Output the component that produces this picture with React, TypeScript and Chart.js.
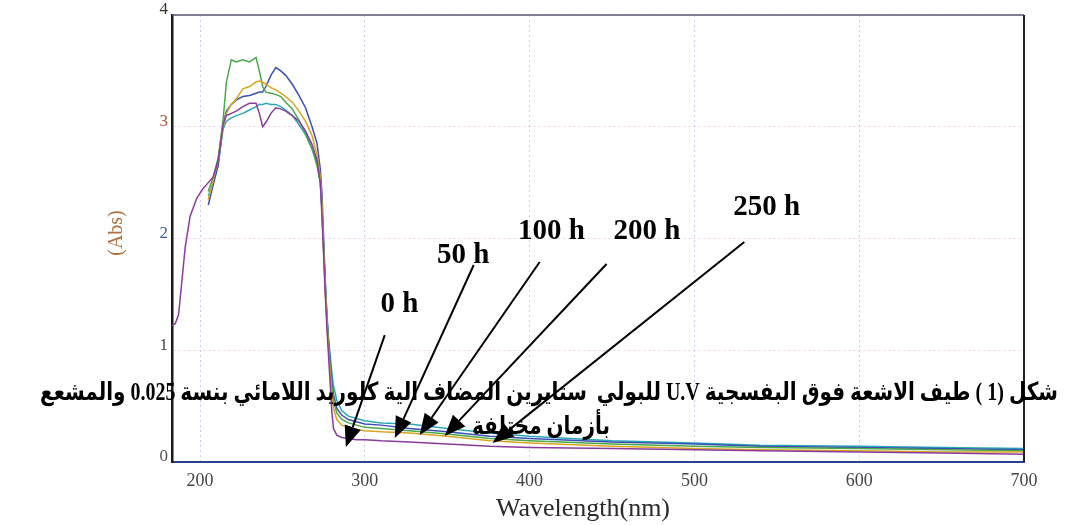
import React, { useEffect, useRef } from "react";
import { Chart, registerables } from "chart.js";

Chart.register(...registerables);

// ---------- data ----------
const wavelengths = [183, 185, 187, 189, 191, 194, 198, 202, 205, 208, 211, 214, 216, 219, 222, 226, 230, 234, 236, 238, 240, 243, 246, 249, 252, 256, 260, 264, 268, 271, 273, 274, 275, 276, 277, 278, 279, 280, 281, 283, 286, 290, 295, 300, 310, 327, 350, 376, 400, 450, 500, 540, 600, 650, 700];

const abs0h = [1.22, 1.24, 1.32, 1.62, 1.92, 2.2, 2.36, 2.45, 2.5, 2.55, 2.7, 3.02, 3.1, 3.12, 3.14, 3.18, 3.21, 3.21, 3.12, 3.0, 3.04, 3.12, 3.17, 3.16, 3.14, 3.1, 3.05, 2.96, 2.84, 2.7, 2.5, 2.2, 1.85, 1.5, 1.2, 0.95, 0.7, 0.45, 0.3, 0.24, 0.22, 0.21, 0.2, 0.2, 0.19, 0.18, 0.16, 0.14, 0.13, 0.12, 0.11, 0.1, 0.09, 0.08, 0.07];
const abs50h = [null, null, null, null, null, null, null, null, 2.35, 2.52, 2.7, 3.0, 3.12, 3.2, 3.25, 3.34, 3.36, 3.4, 3.41, 3.4, 3.38, 3.35, 3.33, 3.3, 3.27, 3.22, 3.14, 3.05, 2.92, 2.75, 2.55, 2.3, 1.9, 1.55, 1.25, 1.0, 0.78, 0.6, 0.48, 0.38, 0.33, 0.31, 0.29, 0.28, 0.27, 0.26, 0.23, 0.19, 0.17, 0.14, 0.12, 0.11, 0.1, 0.09, 0.09];
const abs100h = [null, null, null, null, null, null, null, null, 2.42, 2.55, 2.72, 3.06, 3.4, 3.6, 3.58, 3.6, 3.58, 3.62, 3.5, 3.36, 3.31, 3.3, 3.29, 3.27, 3.22, 3.16, 3.06, 2.95, 2.8, 2.65, 2.5, 2.25, 1.9, 1.55, 1.28, 1.05, 0.85, 0.68, 0.55, 0.44, 0.38, 0.35, 0.33, 0.31, 0.3, 0.28, 0.25, 0.21, 0.19, 0.16, 0.14, 0.13, 0.12, 0.11, 0.1];
const abs200h = [null, null, null, null, null, null, null, null, 2.3, 2.48, 2.66, 3.02, 3.14, 3.2, 3.24, 3.27, 3.28, 3.3, 3.31, 3.31, 3.36, 3.46, 3.53, 3.5, 3.46, 3.38, 3.28, 3.17, 3.0, 2.85, 2.62, 2.4, 2.0, 1.62, 1.32, 1.08, 0.9, 0.72, 0.6, 0.48, 0.42, 0.38, 0.36, 0.34, 0.33, 0.3, 0.27, 0.23, 0.21, 0.18, 0.16, 0.14, 0.13, 0.12, 0.11];
const abs250h = [null, null, null, null, null, null, null, null, 2.38, 2.5, 2.65, 2.98, 3.05, 3.08, 3.1, 3.12, 3.15, 3.18, 3.2, 3.2, 3.21, 3.2, 3.2, 3.18, 3.15, 3.1, 3.02, 2.93, 2.8, 2.68, 2.5, 2.28, 1.95, 1.6, 1.3, 1.1, 0.95, 0.8, 0.68, 0.55, 0.46, 0.41, 0.39, 0.37, 0.35, 0.34, 0.3, 0.26, 0.23, 0.19, 0.17, 0.15, 0.14, 0.13, 0.12];

const seriesLabels = ["0 h", "50 h", "100 h", "200 h", "250 h"];
const seriesValues = [abs0h, abs50h, abs100h, abs200h, abs250h];
const seriesColors = ["#8a3c9e", "#d9a521", "#4aa84a", "#3b4fb8", "#29a9b5"];

const xTicks = [200, 300, 400, 500, 600, 700];
const yTicks = [0, 1, 2, 3, 4];
const yTickColors = ["#555555", "#444444", "#3d5f9e", "#b5553c", "#333333"];

// annotation label baselines (nm, Abs) and arrows (start -> tip) in data units
const labelNm = [321, 359.7, 413.3, 471.2, 543.9];
const labelAbs = [1.342, 1.781, 1.996, 1.996, 2.21];
const arrowStartNm = [312.1, 366.1, 406.1, 446.7, 530.3];
const arrowStartAbs = [1.136, 1.763, 1.79, 1.772, 1.969];
const arrowTipNm = [288.5, 318.2, 333.3, 348.5, 377.6];
const arrowTipAbs = [0.134, 0.215, 0.242, 0.233, 0.17];

const xTitle = "Wavelength(nm)";
const yTitle = "(Abs)";
const captionLine1 = "شكل (1 ) طيف الاشعة فوق البفسجية U.V للبولي  ستايرين المضاف الية كلوريد اللامائي بنسة 0.025 والمشعع";
const captionLine2 = "بأزمان مختلفة";

const W = 1071;
const H = 525;

const decorPlugin = {
  id: "decor",
  afterDatasetsDraw(chart: any) {
    const ctx = chart.ctx;
    const { left, right, top, bottom } = chart.chartArea;
    const xs = chart.scales.x;
    const ys = chart.scales.y;
    ctx.save();
    // frame: top and right
    ctx.strokeStyle = "#5a5470";
    ctx.lineWidth = 1.5;
    ctx.beginPath();
    ctx.moveTo(left, top);
    ctx.lineTo(right, top);
    ctx.stroke();
    ctx.strokeStyle = "#222";
    ctx.lineWidth = 2;
    ctx.beginPath();
    ctx.moveTo(right, top);
    ctx.lineTo(right, bottom);
    ctx.stroke();

    // axis titles
    ctx.fillStyle = "#b07040";
    ctx.font = "20px 'Liberation Serif', serif";
    ctx.textAlign = "center";
    ctx.textBaseline = "middle";
    ctx.save();
    ctx.translate(117, 233);
    ctx.rotate(-Math.PI / 2);
    ctx.fillText(yTitle, 0, 0);
    ctx.restore();

    ctx.fillStyle = "#2a2a2a";
    ctx.font = "26px 'Liberation Serif', serif";
    ctx.fillText(xTitle, 583, 509);

    // annotation labels and arrows
    ctx.fillStyle = "#000";
    ctx.strokeStyle = "#000";
    ctx.font = "bold 29px 'Liberation Serif', serif";
    ctx.textBaseline = "alphabetic";
    for (let i = 0; i < seriesLabels.length; i++) {
      const lx = xs.getPixelForValue(labelNm[i]);
      const ly = ys.getPixelForValue(labelAbs[i]);
      ctx.fillText(seriesLabels[i], lx, ly);
      const sx = xs.getPixelForValue(arrowStartNm[i]);
      const sy = ys.getPixelForValue(arrowStartAbs[i]);
      const tx = xs.getPixelForValue(arrowTipNm[i]);
      const ty = ys.getPixelForValue(arrowTipAbs[i]);
      const ang = Math.atan2(ty - sy, tx - sx);
      const headLen = 21;
      const headHalf = 8.5;
      const bx = tx - headLen * Math.cos(ang);
      const by = ty - headLen * Math.sin(ang);
      ctx.lineWidth = 2;
      ctx.beginPath();
      ctx.moveTo(sx, sy);
      ctx.lineTo(bx, by);
      ctx.stroke();
      ctx.beginPath();
      ctx.moveTo(tx, ty);
      ctx.lineTo(bx + headHalf * Math.sin(ang), by - headHalf * Math.cos(ang));
      ctx.lineTo(bx - headHalf * Math.sin(ang), by + headHalf * Math.cos(ang));
      ctx.closePath();
      ctx.fill();
    }

    // caption (Arabic, RTL)
    ctx.font = "bold 25px 'Liberation Serif', 'DejaVu Sans', sans-serif";
    (ctx as any).direction = "rtl";
    ctx.textAlign = "right";
    ctx.textBaseline = "alphabetic";
    const w1 = ctx.measureText(captionLine1).width;
    const targetW = 1018;
    const scaleX = targetW / w1;
    ctx.save();
    ctx.translate(1058, 400);
    ctx.scale(scaleX, 1);
    ctx.fillText(captionLine1, 0, 0);
    ctx.restore();
    ctx.textAlign = "center";
    ctx.save();
    ctx.translate(541, 434);
    ctx.scale(scaleX, 1);
    ctx.fillText(captionLine2, 0, 0);
    ctx.restore();
    ctx.restore();
  },
};

export default function App() {
  const canvasRef = useRef<HTMLCanvasElement | null>(null);

  useEffect(() => {
    const canvas = canvasRef.current;
    if (!canvas) return;
    const datasets = seriesValues.map((vals, si) => ({
      label: seriesLabels[si],
      data: wavelengths
        .map((w, i) => ({ x: w, y: vals[i] }))
        .filter((p) => p.y !== null),
      borderColor: seriesColors[si],
      backgroundColor: seriesColors[si],
      borderWidth: 1.5,
      pointRadius: 0,
      tension: 0,
      fill: false,
    }));

    const chart = new Chart(canvas, {
      type: "line",
      data: { datasets },
      options: {
        animation: false,
        responsive: false,
        maintainAspectRatio: false,
        layout: { padding: { top: 15, right: 47, left: 0, bottom: 0 } },
        plugins: {
          legend: { display: false },
          tooltip: { enabled: false },
          title: { display: false },
        },
        scales: {
          x: {
            type: "linear",
            min: 183,
            max: 700,
            afterBuildTicks: (axis: any) => {
              axis.ticks = xTicks.map((v) => ({ value: v }));
            },
            afterFit: (axis: any) => {
              axis.height = 63;
            },
            ticks: {
              autoSkip: false,
              maxRotation: 0,
              padding: 8,
              color: "#444",
              font: { family: "'Liberation Serif', serif", size: 18 },
              callback: (v: any) => String(v),
            },
            grid: {
              drawTicks: false,
              color: "rgba(170,160,225,0.55)",
              lineWidth: 1,
            },
            border: { display: true, color: "#2b3d8f", width: 2, dash: [2, 3] },
          },
          y: {
            type: "linear",
            min: 0,
            max: 4,
            afterBuildTicks: (axis: any) => {
              axis.ticks = yTicks.map((v) => ({ value: v }));
            },
            afterFit: (axis: any) => {
              axis.width = 172;
            },
            ticks: {
              autoSkip: false,
              padding: 4,
              labelOffset: -5,
              color: (c: any) => yTickColors[yTicks.indexOf(c.tick.value)] || "#444",
              font: { family: "'Liberation Serif', serif", size: 17 },
              callback: (v: any) => String(v),
            },
            grid: {
              drawTicks: false,
              color: "rgba(225,170,225,0.55)",
              lineWidth: 1,
            },
            border: { display: true, color: "#1a1a1a", width: 2.5, dash: [2, 3] },
          },
        },
      },
      plugins: [decorPlugin],
    } as any);

    return () => chart.destroy();
  }, []);

  return (
    <div style={{ position: "absolute", left: 0, top: 0, width: W, height: H, background: "#fff" }}>
      <canvas ref={canvasRef} width={W} height={H} style={{ width: W, height: H, display: "block" }} />
    </div>
  );
}
